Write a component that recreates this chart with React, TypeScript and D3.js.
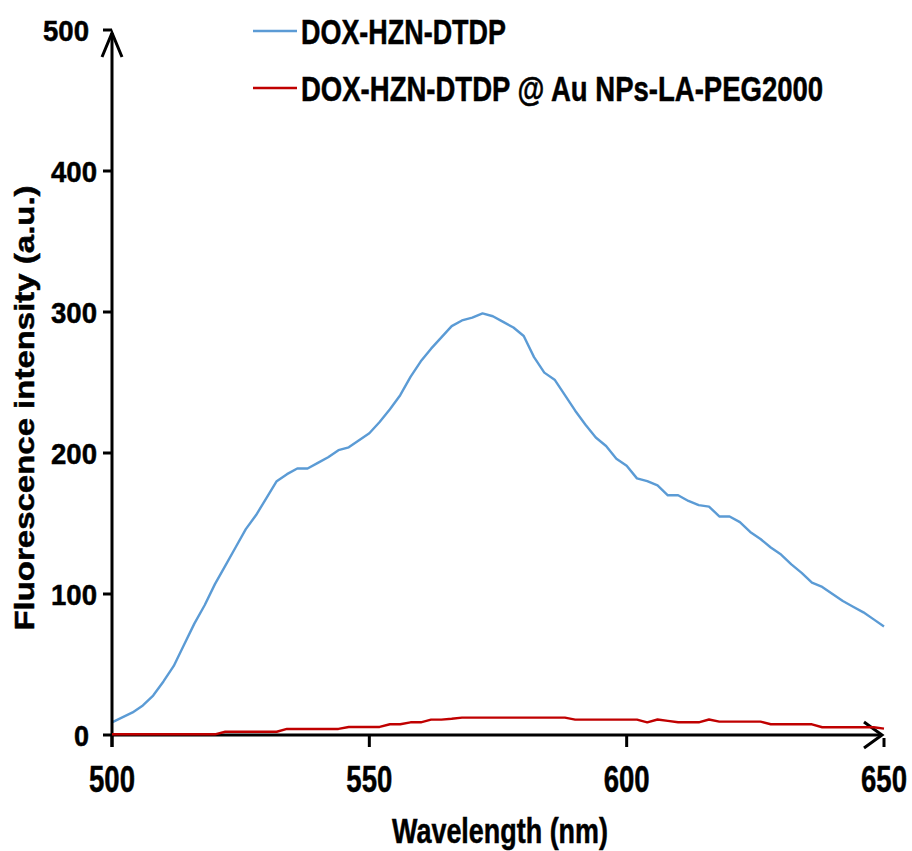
import React, { useLayoutEffect, useRef, useState } from 'react';
import * as d3 from 'd3';

const wavelengths = [
  500, 502, 504, 506, 508, 510, 512, 514, 516, 518,
  520, 522, 524, 526, 528, 530, 532, 534, 536, 538,
  540, 542, 544, 546, 548, 550, 552, 554, 556, 558,
  560, 562, 564, 566, 568, 570, 572, 574, 576, 578,
  580, 582, 584, 586, 588, 590, 592, 594, 596, 598,
  600, 602, 604, 606, 608, 610, 612, 614, 616, 618,
  620, 622, 624, 626, 628, 630, 632, 634, 636, 638,
  640, 642, 644, 646, 648, 650,
];

const doxValues = [
  9, 12.5, 16, 21, 28, 38, 49, 64, 79, 92,
  107, 120, 133, 146, 156, 168, 180, 185, 189, 189,
  193, 197, 202, 204, 209, 214, 222, 231, 241, 254,
  265, 274, 282, 290, 294, 296, 299, 297, 293, 289,
  283, 268, 257, 252, 241, 230, 220, 211, 205, 196,
  191, 182, 180, 177, 170, 170, 166, 163, 162, 155,
  155, 151, 144, 139, 133, 128, 121, 115, 108, 105,
  100, 95, 91, 87, 82, 77,
];

const auValues = [
  0.5, 0.5, 0.5, 0.5, 0.5, 0.5, 0.5, 0.5, 0.5, 0.5,
  0.5, 2.3, 2.3, 2.3, 2.3, 2.3, 2.3, 4.3, 4.3, 4.3,
  4.3, 4.3, 4.3, 5.7, 5.7, 5.7, 5.7, 7.6, 7.6, 9,
  9, 10.9, 10.9, 11.5, 12.3, 12.3, 12.3, 12.3, 12.3, 12.3,
  12.3, 12.3, 12.3, 12.3, 12.3, 10.9, 10.9, 10.9, 10.9, 10.9,
  10.9, 10.9, 9, 11, 10, 9, 9, 9, 11, 9.5,
  9.5, 9.5, 9.5, 9.5, 7.6, 7.6, 7.6, 7.6, 7.6, 5.5,
  5.5, 5.5, 5.5, 5.5, 5.5, 4.5,
];

const xTicks = [500, 550, 600, 650];
const yTicks = [0, 100, 200, 300, 400, 500];

const seriesNames = ['DOX-HZN-DTDP', 'DOX-HZN-DTDP @ Au NPs-LA-PEG2000'];
const seriesColors = ['#5B9BD5', '#C00000'];
const xTitle = 'Wavelength (nm)';
const yTitle = 'Fluorescence intensity (a.u.)';

const FONT = '"Liberation Sans", Arial, sans-serif';

type FitProps = {
  x: number;
  y: number;
  width: number;
  fontSize: number;
  anchor?: 'start' | 'middle' | 'end';
  rotate?: number;
  text: string;
};

function FitText({ x, y, width, fontSize, anchor = 'start', rotate = 0, text }: FitProps) {
  const ref = useRef<SVGTextElement>(null);
  const [sx, setSx] = useState(0.78);
  useLayoutEffect(() => {
    if (ref.current) {
      const w = ref.current.getComputedTextLength();
      if (w > 0) setSx(width / w);
    }
  }, [width, fontSize, text]);
  return (
    <text
      ref={ref}
      transform={`translate(${x},${y}) rotate(${rotate}) scale(${sx},1)`}
      x={0}
      y={0}
      fontSize={fontSize}
      textAnchor={anchor}
      fontFamily={FONT}
      fontWeight="bold"
      fill="#000"
      stroke="#000"
      strokeWidth={0.5}
    >
      {text}
    </text>
  );
}

export default function App() {
  const W = 912;
  const H = 851;
  const x = d3.scaleLinear().domain([500, 650]).range([112, 884]);
  const y = d3.scaleLinear().domain([0, 500]).range([735, 30]);

  const line = d3
    .line<number>()
    .x((_, i) => x(wavelengths[i]))
    .y((d) => y(d));

  const x0 = x(500);
  const y0 = y(0);
  const yTop = 33;
  const xEnd = 882;

  return (
    <svg
      width={W}
      height={H}
      viewBox={`0 0 ${W} ${H}`}
      style={{ position: 'absolute', left: 0, top: 0, background: '#fff' }}
    >
      <rect x={0} y={0} width={W} height={H} fill="#fff" />
      {/* series */}
      <path d={line(doxValues) || ''} fill="none" stroke={seriesColors[0]} strokeWidth={2.4} strokeLinejoin="round" />

      {/* axes */}
      <g stroke="#000" strokeWidth={3} fill="none" strokeLinecap="butt">
        <line x1={x0} y1={y0 + 12} x2={x0} y2={yTop} />
        <line x1={x0} y1={y0} x2={xEnd} y2={y0} />
        <polyline points={`${x0 - 10},${yTop + 24} ${x0},${yTop} ${x0 + 10},${yTop + 24}`} strokeLinejoin="miter" />
        <polyline points={`${xEnd - 18},${y0 - 13} ${xEnd},${y0} ${xEnd - 18},${y0 + 13}`} strokeLinejoin="miter" />
        {yTicks.map((t) => (
          <line key={'yt' + t} x1={x0 - 9} x2={x0} y1={y(t)} y2={y(t)} />
        ))}
        {xTicks.map((t) => (
          <line key={'xt' + t} x1={x(t)} x2={x(t)} y1={y0 + (t === 650 ? 3 : 0)} y2={y0 + 12} />
        ))}
      </g>
      <path d={line(auValues) || ''} fill="none" stroke={seriesColors[1]} strokeWidth={2.4} strokeLinejoin="round" />

      {/* tick labels */}
      {yTicks.map((t) => (
        <FitText
          key={'yl' + t}
          x={t === 0 || t === 500 ? 89 : 97}
          y={y(t) + 11}
          fontSize={30}
          anchor="end"
          width={t === 0 ? 15 : 46}
          text={String(t)}
        />
      ))}
      {xTicks.map((t) => (
        <FitText key={'xl' + t} x={x(t)} y={792} fontSize={37} anchor="middle" width={46} text={String(t)} />
      ))}
      <FitText x={500} y={843} fontSize={35} anchor="middle" width={216} text={xTitle} />
      <FitText x={34} y={408} fontSize={28} anchor="middle" rotate={-90} width={445} text={yTitle} />

      {/* legend */}
      {seriesNames.map((name, i) => (
        <g key={name}>
          <line x1={253} x2={297} y1={31 + i * 57} y2={31 + i * 57} stroke={seriesColors[i]} strokeWidth={2.4} />
          <FitText x={301} y={44 + i * 57} fontSize={36} width={i === 0 ? 205 : 522} text={name} />
        </g>
      ))}
    </svg>
  );
}
